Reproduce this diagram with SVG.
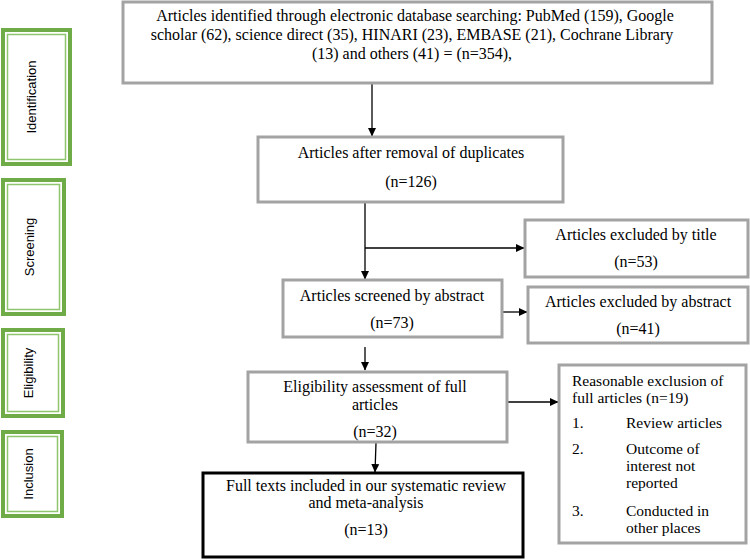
<svg xmlns="http://www.w3.org/2000/svg" width="750" height="560" viewBox="0 0 750 560">
<defs>
<style>
.box{fill:#fff;stroke:#a3a3a3;stroke-width:3}
.fin{fill:#fff;stroke:#000;stroke-width:3}
.t{font-family:"Liberation Serif","Times New Roman",serif;font-size:16px;fill:#000}
.s{font-size:15.5px}
.c{text-anchor:middle}
.go{fill:#fff;stroke:#6fab46;stroke-width:4}
.gi{fill:none;stroke:#8fc56d;stroke-width:1.5}
.lab{font-family:"Liberation Sans",Arial,sans-serif;font-size:13px;fill:#000;text-anchor:middle}
.ln{fill:none;stroke:#000;stroke-width:1.3}
</style>
<marker id="ah" markerWidth="9" markerHeight="9" refX="8" refY="4.5" orient="auto" markerUnits="userSpaceOnUse">
<path d="M0,0.5 L8.5,4.5 L0,8.5 Z" fill="#000"/>
</marker>
</defs>

<g id="phase-identification">
<rect class="go" x="3" y="30" width="67" height="134"/>
<rect class="gi" x="7.5" y="34.5" width="58" height="125"/>
<text class="lab" transform="translate(36,97) rotate(-90)">Identification</text>
</g>
<g id="phase-screening">
<rect class="go" x="3" y="180" width="61" height="134"/>
<rect class="gi" x="7.5" y="184.5" width="52" height="125"/>
<text class="lab" transform="translate(34,247) rotate(-90)">Screening</text>
</g>
<g id="phase-eligibility">
<rect class="go" x="3" y="330" width="60" height="86"/>
<rect class="gi" x="7.5" y="334.5" width="51" height="77"/>
<text class="lab" transform="translate(33,373) rotate(-90)">Eligibility</text>
</g>
<g id="phase-inclusion">
<rect class="go" x="3" y="432" width="59" height="84"/>
<rect class="gi" x="7.5" y="436.5" width="50" height="75"/>
<text class="lab" transform="translate(33,474) rotate(-90)">Inclusion</text>
</g>

<g id="connectors">
<line class="ln" x1="372" y1="84" x2="372" y2="136" marker-end="url(#ah)"/>
<line class="ln" x1="365" y1="203" x2="365" y2="279" marker-end="url(#ah)"/>
<line class="ln" x1="365" y1="248" x2="524" y2="248" marker-end="url(#ah)"/>
<line class="ln" x1="503" y1="312" x2="527" y2="312" marker-end="url(#ah)"/>
<line class="ln" x1="365" y1="347" x2="365" y2="370" marker-end="url(#ah)"/>
<line class="ln" x1="508" y1="402" x2="558" y2="402" marker-end="url(#ah)"/>
<line class="ln" x1="376" y1="443" x2="375" y2="472" marker-end="url(#ah)"/>
</g>

<g id="identified">
<rect class="box" x="123" y="2" width="589" height="81"/>
<text class="t c" x="415" y="21">Articles identified through electronic database searching: PubMed (159), Google</text>
<text class="t c" x="412" y="40">scholar (62), science direct (35), HINARI (23), EMBASE (21), Cochrane Library</text>
<text class="t c" x="412" y="59">(13) and others (41) = (n=354),</text>
</g>

<g id="deduplicated">
<rect class="box" x="258" y="137" width="305" height="65"/>
<text class="t c" x="411" y="158">Articles after removal of duplicates</text>
<text class="t c" x="411" y="187">(n=126)</text>
</g>

<g id="excluded-title">
<rect class="box" x="525" y="220" width="223" height="57"/>
<text class="t c" x="636" y="240">Articles excluded by title</text>
<text class="t c" x="636" y="267">(n=53)</text>
</g>

<g id="screened-abstract">
<rect class="box" x="283" y="280" width="219" height="57"/>
<text class="t c" x="392" y="301">Articles screened by abstract</text>
<text class="t c" x="392" y="328">(n=73)</text>
</g>

<g id="excluded-abstract">
<rect class="box" x="528" y="287" width="220" height="56"/>
<text class="t c" x="638" y="307">Articles excluded by abstract</text>
<text class="t c" x="638" y="334">(n=41)</text>
</g>

<g id="eligibility">
<rect class="box" x="248" y="372" width="259" height="70"/>
<text class="t c" x="375" y="392">Eligibility assessment of full</text>
<text class="t c" x="375" y="410">articles</text>
<text class="t c" x="375" y="437">(n=32)</text>
</g>

<g id="excluded-full">
<rect class="box" x="559" y="365" width="187" height="178"/>
<text class="t s" x="572" y="386">Reasonable exclusion of</text>
<text class="t s" x="572" y="403">full articles (n=19)</text>
<text class="t s" x="572" y="428">1.</text>
<text class="t s" x="626" y="428">Review articles</text>
<text class="t s" x="572" y="454">2.</text>
<text class="t s" x="626" y="454">Outcome of</text>
<text class="t s" x="626" y="471">interest not</text>
<text class="t s" x="626" y="488">reported</text>
<text class="t s" x="572" y="516">3.</text>
<text class="t s" x="626" y="516">Conducted in</text>
<text class="t s" x="626" y="533">other places</text>
</g>

<g id="included">
<rect class="fin" x="203" y="473" width="320" height="84"/>
<text class="t c" x="366" y="491">Full texts included in our systematic review</text>
<text class="t c" x="366" y="508">and meta-analysis</text>
<text class="t c" x="366" y="535">(n=13)</text>
</g>
</svg>
